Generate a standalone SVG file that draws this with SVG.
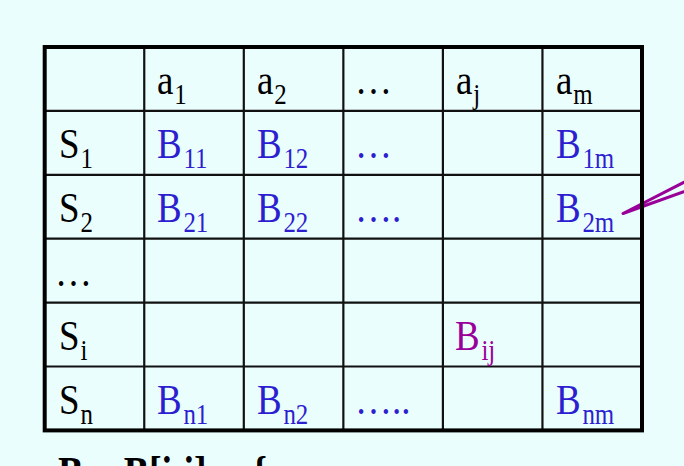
<svg xmlns="http://www.w3.org/2000/svg" width="684" height="466" viewBox="0 0 684 466">
<style>
.t { font-family: "Liberation Serif", "Times New Roman", serif; font-size: 43px; }
.s { font-size: 29px; }
.k { fill: #000000; }
.b { fill: #2d1fd0; }
.p { fill: #990099; }
.bold { font-weight: bold; font-size: 44px; }
.grid line { stroke: #111111; stroke-width: 2.2; }
</style>
<rect x="0" y="0" width="684" height="466" fill="#ebfefe"/>

<g id="callout">
<polygon points="623,213.5 700,174 700,186" fill="#ebfefe" stroke="#990099" stroke-width="3" stroke-linejoin="round"/>
</g>

<g id="table-grid" class="grid">
<line x1="44.7" y1="110.9" x2="642" y2="110.9"/>
<line x1="44.7" y1="174.8" x2="642" y2="174.8"/>
<line x1="44.7" y1="238.7" x2="642" y2="238.7"/>
<line x1="44.7" y1="302.6" x2="642" y2="302.6"/>
<line x1="44.7" y1="366.5" x2="642" y2="366.5"/>
<line x1="144.25" y1="47" x2="144.25" y2="430.4"/>
<line x1="243.8" y1="47" x2="243.8" y2="430.4"/>
<line x1="343.35" y1="47" x2="343.35" y2="430.4"/>
<line x1="442.9" y1="47" x2="442.9" y2="430.4"/>
<line x1="542.45" y1="47" x2="542.45" y2="430.4"/>
<rect x="44.7" y="47" width="597.3" height="383.4" fill="none" stroke="#000000" stroke-width="4"/>
</g>

<g id="header-row">
<text class="t k" transform="translate(157,94) scale(0.86,1)">a<tspan class="s" dx="1" dy="10">1</tspan></text>
<text class="t k" transform="translate(257,94) scale(0.86,1)">a<tspan class="s" dx="1" dy="10">2</tspan></text>
<text class="t k" transform="translate(355,94) scale(0.86,1)">…</text>
<text class="t k" transform="translate(456,94) scale(0.86,1)">a<tspan class="s" dx="1" dy="10">j</tspan></text>
<text class="t k" transform="translate(556,94) scale(0.86,1)">a<tspan class="s" dx="1" dy="10">m</tspan></text>
</g>

<g id="row-s1">
<text class="t k" transform="translate(59,158) scale(0.86,1)">S<tspan class="s" dx="1" dy="10">1</tspan></text>
<text class="t b" transform="translate(157,158) scale(0.86,1)">B<tspan class="s" dx="2" dy="10">11</tspan></text>
<text class="t b" transform="translate(257,158) scale(0.86,1)">B<tspan class="s" dx="2" dy="10">12</tspan></text>
<text class="t b" transform="translate(355,158) scale(0.86,1)">…</text>
<text class="t b" transform="translate(556,158) scale(0.86,1)">B<tspan class="s" dx="2" dy="10">1m</tspan></text>
</g>

<g id="row-s2">
<text class="t k" transform="translate(59,222) scale(0.86,1)">S<tspan class="s" dx="1" dy="10">2</tspan></text>
<text class="t b" transform="translate(157,222) scale(0.86,1)">B<tspan class="s" dx="2" dy="10">21</tspan></text>
<text class="t b" transform="translate(257,222) scale(0.86,1)">B<tspan class="s" dx="2" dy="10">22</tspan></text>
<text class="t b" transform="translate(355,222) scale(0.86,1)">….</text>
<text class="t b" transform="translate(556,222) scale(0.86,1)">B<tspan class="s" dx="2" dy="10">2m</tspan></text>
</g>

<g id="row-dots">
<text class="t k" transform="translate(55,286) scale(0.86,1)">…</text>
</g>

<g id="row-si">
<text class="t k" transform="translate(59,350) scale(0.86,1)">S<tspan class="s" dx="1" dy="10">i</tspan></text>
<text class="t p" transform="translate(455,350) scale(0.86,1)">B<tspan class="s" dx="2" dy="10">ij</tspan></text>
</g>

<g id="row-sn">
<text class="t k" transform="translate(59,414) scale(0.86,1)">S<tspan class="s" dx="1" dy="10">n</tspan></text>
<text class="t b" transform="translate(157,414) scale(0.86,1)">B<tspan class="s" dx="2" dy="10">n1</tspan></text>
<text class="t b" transform="translate(257,414) scale(0.86,1)">B<tspan class="s" dx="2" dy="10">n2</tspan></text>
<text class="t b" transform="translate(355,414) scale(0.86,1)">…..</text>
<text class="t b" transform="translate(556,414) scale(0.86,1)">B<tspan class="s" dx="2" dy="10">nm</tspan></text>
</g>

<g id="bottom-formula">
<text class="t k bold" transform="translate(58,487) scale(0.86,1)">B = B[i,j]</text>
<text class="t k bold" transform="translate(252,487) scale(0.86,1)">{</text>
</g>
</svg>
